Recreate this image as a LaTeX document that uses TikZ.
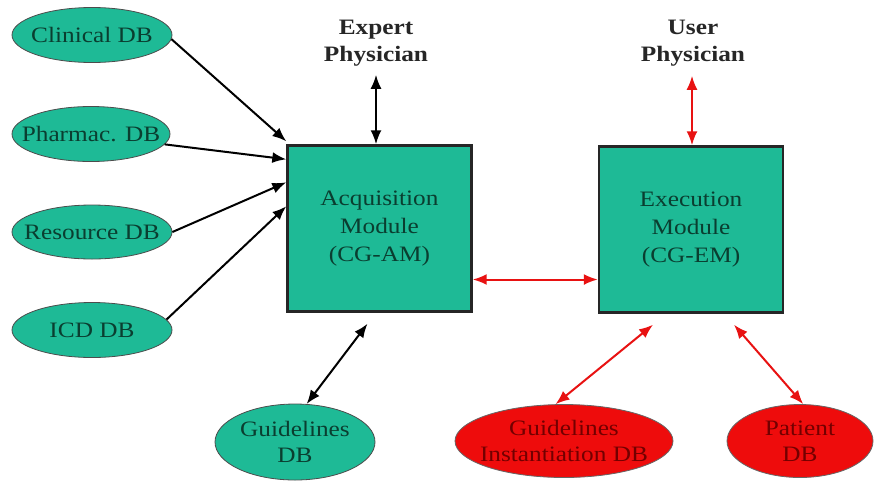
\documentclass[tikz,border=0pt]{standalone}
\usepackage{fontspec}
\setmainfont[FakeStretch=1.15]{Liberation Serif}
\usetikzlibrary{shapes.geometric,arrows.meta,calc}
\definecolor{dbgreen}{RGB}{30,186,150}
\definecolor{dbtext}{RGB}{10,62,48}
\definecolor{dbred}{RGB}{238,12,12}
\definecolor{redtext}{RGB}{115,0,0}
\definecolor{linkred}{RGB}{232,18,18}
\begin{document}
\begin{tikzpicture}[x=1pt,y=-1pt,
  every node/.style={font=\fontsize{22}{27}\selectfont, inner sep=0pt},
  dbtxt/.style={align=center, font=\fontsize{22}{26}\selectfont},
  gdb/.style={ellipse, draw=black!70, line width=0.8pt, fill=dbgreen,
    label={[dbtxt, text=dbtext]center:#1}},
  rdb/.style={ellipse, draw=black!60, line width=0.8pt, fill=dbred,
    label={[dbtxt, text=redtext]center:#1}},
  module/.style={rectangle, draw=black!85, line width=2.4pt, fill=dbgreen, text=dbtext,
    align=center, minimum width=184, minimum height=166, font=\fontsize{22}{28}\selectfont},
  actor/.style={font=\bfseries\fontsize{22}{27}\selectfont, text=black!85, align=center},
  tip/.style={Latex[length=14pt,width=11pt]},
  feed/.style={line width=2pt, draw=black, -{Latex[length=14pt,width=11pt]}},
  blink/.style={line width=2pt, draw=black, {Latex[length=14pt,width=11pt]}-{Latex[length=14pt,width=11pt]}},
  rlink/.style={line width=2pt, draw=linkred, {Latex[length=14pt,width=11pt]}-{Latex[length=14pt,width=11pt]}}]
\useasboundingbox (0,0) rectangle (874,480);

% data sources
\node[gdb={Clinical DB}, minimum width=160, minimum height=55] (clin) at (92,35) {};
\node[gdb={Pharmac. DB}, minimum width=158, minimum height=55] (pharm) at (91,134) {};
\node[gdb={Resource DB}, minimum width=160, minimum height=54] (res) at (92,232) {};
\node[gdb={ICD DB}, minimum width=160, minimum height=55] (icd) at (92,330) {};

% modules
\node[module] (acq) at (379.5,228.5) {Acquisition\\Module\\(CG-AM)};
\node[module] (exec) at (691,229.5) {Execution\\Module\\(CG-EM)};

% physicians
\node[actor] (expert) at (376,43.5) {Expert\\Physician};
\node[actor] (user) at (693,43.5) {User\\Physician};

% guideline stores
\node[gdb={Guidelines\\DB}, minimum width=160, minimum height=76] (gdbn) at (295,442) {};
\node[rdb={Guidelines\\Instantiation DB}, minimum width=218, minimum height=73] (inst) at (564,441) {};
\node[rdb={Patient\\DB}, minimum width=146, minimum height=73] (pat) at (800,441) {};

% inputs to the acquisition module
\draw[feed] (clin.-3) -- ($(acq.north west)+(0,-3)$);
\draw[feed] (pharm.-8) -- ($(acq.north west)+(0,15)$);
\draw[feed] (res.east) -- ($(acq.north west)+(0,38)$);
\draw[feed] (icd.8) -- ($(acq.north west)+(0,62)$);

% physician links
\draw[blink] ($(expert.south)+(0,8)$) -- (expert.south |- acq.north);
\draw[rlink] ($(user.south)+(-1,9)$) coordinate (u1) -- (u1 |- exec.north);

% module to module
\coordinate (h1) at ($(acq.east)+(0,51)$);
\draw[rlink] (h1) -- (h1 -| exec.west);

% guideline stores to modules
\draw[blink] ($(acq.south)+(-12,11)$) -- (gdbn.73);
\draw[rlink] ($(exec.south)+(-38,11)$) -- (inst.103);
\draw[rlink] ($(exec.south)+(43,11)$) -- (pat.85);
\end{tikzpicture}
\end{document}
